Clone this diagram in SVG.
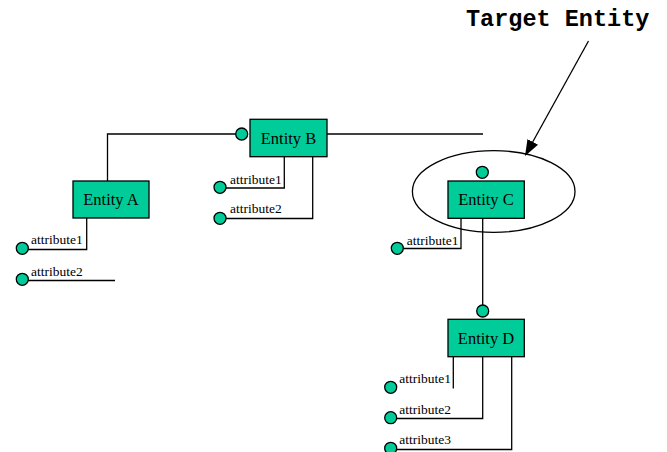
<svg xmlns="http://www.w3.org/2000/svg" width="667" height="452" viewBox="0 0 667 452">
<style>
.ent{fill:#00cc99;stroke:#000;stroke-width:1.3}
.dot{fill:#00cc99;stroke:#000;stroke-width:1.3}
.ln{fill:none;stroke:#000;stroke-width:1.3}
.lbl{font-family:"Liberation Serif","Times New Roman",serif;font-size:16.5px;fill:#000}
.att{font-family:"Liberation Serif","Times New Roman",serif;font-size:13.5px;fill:#000}
.title{font-family:"Liberation Mono","Courier New",monospace;font-weight:bold;font-size:23.5px;fill:#000}
</style>
<defs>
<marker id="ah" markerWidth="16" markerHeight="12" refX="15" refY="6" orient="auto" markerUnits="userSpaceOnUse">
<path d="M0,0 L16,6 L0,12 Z" fill="#000"/>
</marker>
</defs>
<rect width="667" height="452" fill="#fff"/>
<g id="connectors">
<polyline class="ln" points="107.5,181 107.5,134 236,134"/>
<line class="ln" x1="327" y1="134" x2="483" y2="134"/>
<polyline class="ln" points="28,249.5 86.7,249.5 86.7,218"/>
<line class="ln" x1="28" y1="280.5" x2="115" y2="280.5"/>
<polyline class="ln" points="226,188 284.3,188 284.3,157"/>
<polyline class="ln" points="226,218.5 312.7,218.5 312.7,157"/>
<polyline class="ln" points="403,248.5 461,248.5 461,218"/>
<line class="ln" x1="482.7" y1="218" x2="482.7" y2="305"/>
<line class="ln" x1="453.3" y1="357" x2="453.3" y2="388.5"/>
<polyline class="ln" points="396,418.5 482.7,418.5 482.7,357"/>
<polyline class="ln" points="396,449.5 511.7,449.5 511.7,357"/>
<line class="ln" x1="588.5" y1="41" x2="525.5" y2="155" marker-end="url(#ah)"/>
</g>
<g id="target">
<ellipse class="ln" cx="493.7" cy="191.5" rx="81.3" ry="40.8"/>
<text class="title" x="466" y="26">Target Entity</text>
</g>
<g id="entityA">
<rect class="ent" x="73" y="181" width="76" height="37"/>
<text class="lbl" x="111" y="205" text-anchor="middle">Entity A</text>
<circle class="dot" cx="22.3" cy="248.3" r="6"/>
<text class="att" x="31" y="244">attribute1</text>
<circle class="dot" cx="22.3" cy="279.3" r="6"/>
<text class="att" x="31" y="275.5">attribute2</text>
</g>
<g id="entityB">
<circle class="dot" cx="241.7" cy="134" r="6"/>
<rect class="ent" x="250" y="119.3" width="77" height="37.4"/>
<text class="lbl" x="288.5" y="143.5" text-anchor="middle">Entity B</text>
<circle class="dot" cx="220" cy="187.3" r="6"/>
<text class="att" x="230" y="184">attribute1</text>
<circle class="dot" cx="220" cy="218.3" r="6"/>
<text class="att" x="230" y="213">attribute2</text>
</g>
<g id="entityC">
<circle class="dot" cx="482.3" cy="172.3" r="6"/>
<rect class="ent" x="448" y="181" width="76.3" height="37.3"/>
<text class="lbl" x="486" y="205" text-anchor="middle">Entity C</text>
<circle class="dot" cx="397.3" cy="248.3" r="6"/>
<text class="att" x="406.7" y="245">attribute1</text>
</g>
<g id="entityD">
<circle class="dot" cx="482.7" cy="311" r="6"/>
<rect class="ent" x="448" y="319.3" width="76.3" height="37.4"/>
<text class="lbl" x="486" y="343.5" text-anchor="middle">Entity D</text>
<circle class="dot" cx="390.7" cy="387.3" r="6"/>
<text class="att" x="399.3" y="383.3">attribute1</text>
<circle class="dot" cx="390.7" cy="417.7" r="6"/>
<text class="att" x="399.3" y="414">attribute2</text>
<circle class="dot" cx="390.7" cy="448.3" r="6"/>
<text class="att" x="399.3" y="444">attribute3</text>
</g>
</svg>
